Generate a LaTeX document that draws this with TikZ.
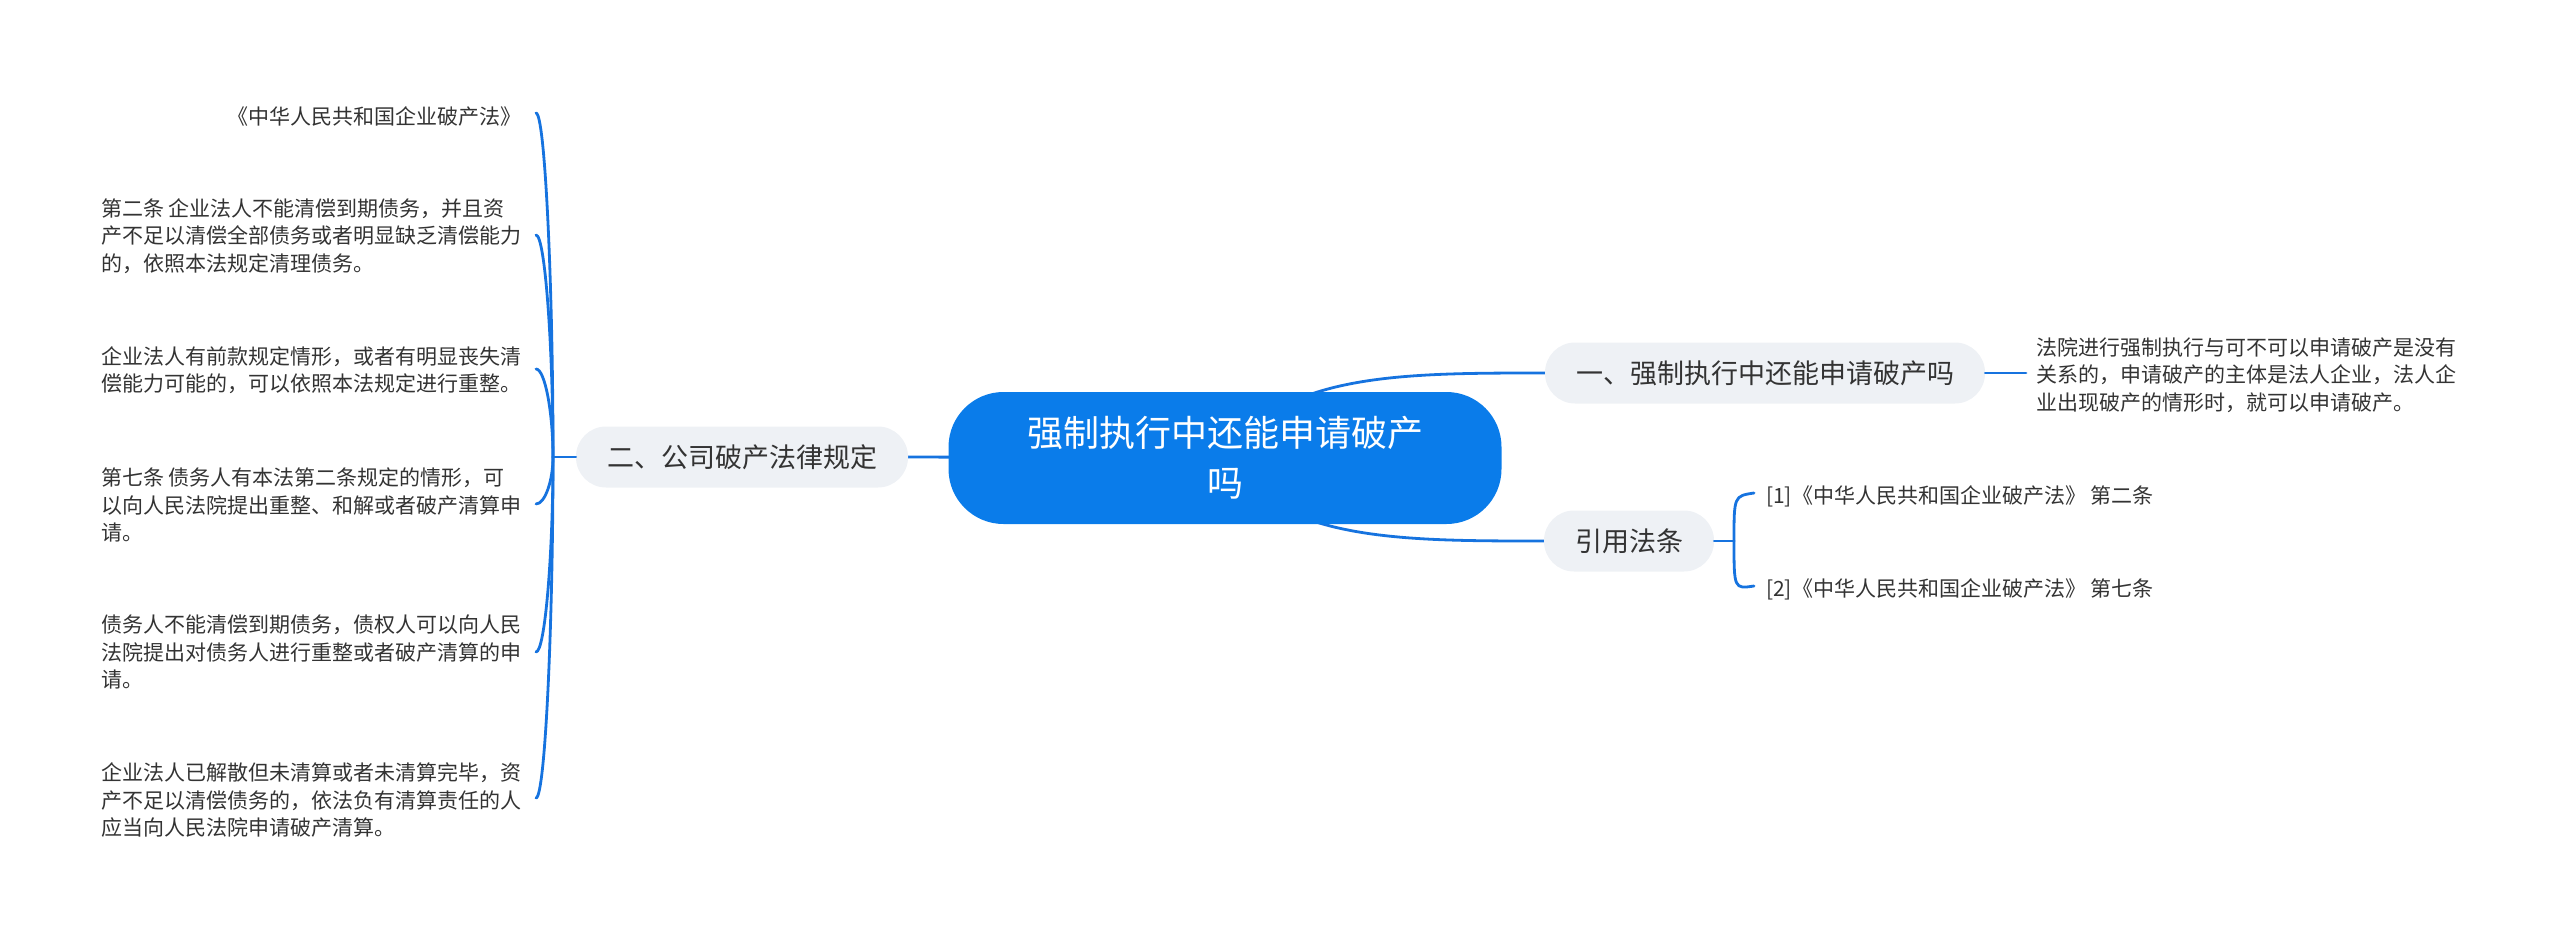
\documentclass[tikz,border=0pt]{standalone}
\usepackage{fontspec}
\setmainfont{Noto Sans CJK SC}
\usetikzlibrary{calc}
\definecolor{mainblue}{HTML}{0A7CEA}
\definecolor{linkblue}{HTML}{1673DF}
\definecolor{branchgray}{HTML}{EEF1F5}
\definecolor{txt}{HTML}{333333}
\pgfdeclarelayer{background}
\pgfsetlayers{background,main}
\tikzset{
  rootbox/.style={fill=mainblue, text=white, rounded corners=55pt, minimum width=553pt, minimum height=132pt, align=center, inner sep=0pt, font=\fontsize{36}{50}\selectfont},
  branchbox/.style={fill=branchgray, text=txt, rounded corners=30pt, minimum height=61pt, inner xsep=31pt, inner ysep=0pt, font=\fontsize{27}{32}\selectfont},
  leafbox/.style={text=txt, align=left, inner sep=0pt, font=\fontsize{21}{27.4}\selectfont},
  link/.style={draw=linkblue, line width=2.8pt, line cap=round},
}
\begin{document}
\begin{tikzpicture}[x=1pt,y=-1pt]
\useasboundingbox (0,0) rectangle (2560,942);
% nodes
\node[rootbox] (root) at (1225,458) {强制执行中还能申请破产\\吗};
\node[branchbox] (b1) at (1765,373) {一、强制执行中还能申请破产吗};
\node[branchbox] (b2) at (1629,541) {引用法条};
\node[branchbox] (b3) at (742,457) {二、公司破产法律规定};
\node[leafbox, anchor=west] (r1) at (2036,375) {法院进行强制执行与可不可以申请破产是没有\\关系的，申请破产的主体是法人企业，法人企\\业出现破产的情形时，就可以申请破产。};
\node[leafbox, anchor=west] (c1) at (1766,496) {[1]《中华人民共和国企业破产法》 第二条};
\node[leafbox, anchor=west] (c2) at (1766,589) {[2]《中华人民共和国企业破产法》 第七条};
\node[leafbox, anchor=east] (l1) at (522,116) {《中华人民共和国企业破产法》};
\node[leafbox, anchor=west] (l2) at (101,236) {第二条 企业法人不能清偿到期债务，并且资\\产不足以清偿全部债务或者明显缺乏清偿能力\\的，依照本法规定清理债务。};
\node[leafbox, anchor=west] (l3) at (101,370) {企业法人有前款规定情形，或者有明显丧失清\\偿能力可能的，可以依照本法规定进行重整。};
\node[leafbox, anchor=west] (l4) at (101,505) {第七条 债务人有本法第二条规定的情形，可\\以向人民法院提出重整、和解或者破产清算申\\请。};
\node[leafbox, anchor=west] (l5) at (101,652) {债务人不能清偿到期债务，债权人可以向人民\\法院提出对债务人进行重整或者破产清算的申\\请。};
\node[leafbox, anchor=west] (l6) at (101,800) {企业法人已解散但未清算或者未清算完毕，资\\产不足以清偿债务的，依法负有清算责任的人\\应当向人民法院申请破产清算。};
% hubs
\coordinate (hl) at (553,457);
\coordinate (hr) at (1734,541);
\begin{pgfonlayer}{background}
\draw[link] (root.center) .. controls (1280,373) and (1400,373) .. (b1.west);
\draw[link] (root.center) .. controls (1280,541) and (1400,541) .. (b2.west);
\draw[link] (root.center) -- (b3.east);
\end{pgfonlayer}
\draw[link] (b1.east) -- ($(r1.west)+(-10,-2)$);
\draw[link] (b2.east) -- (hr);
\foreach \c in {c1,c2}{
  \draw[link] (hr) .. controls (hr |- \c.west) .. ($(\c.west)+(-12,-3)$);
}
\draw[link] (b3.west) -- (hl);
\foreach \c/\yy in {l1/113,l2/235,l3/369,l4/504,l5/652,l6/798}{
  \draw[link] (hl) .. controls (553,{(\yy+457)/2}) and (545,\yy) .. (536,\yy);
}
\end{tikzpicture}
\end{document}
